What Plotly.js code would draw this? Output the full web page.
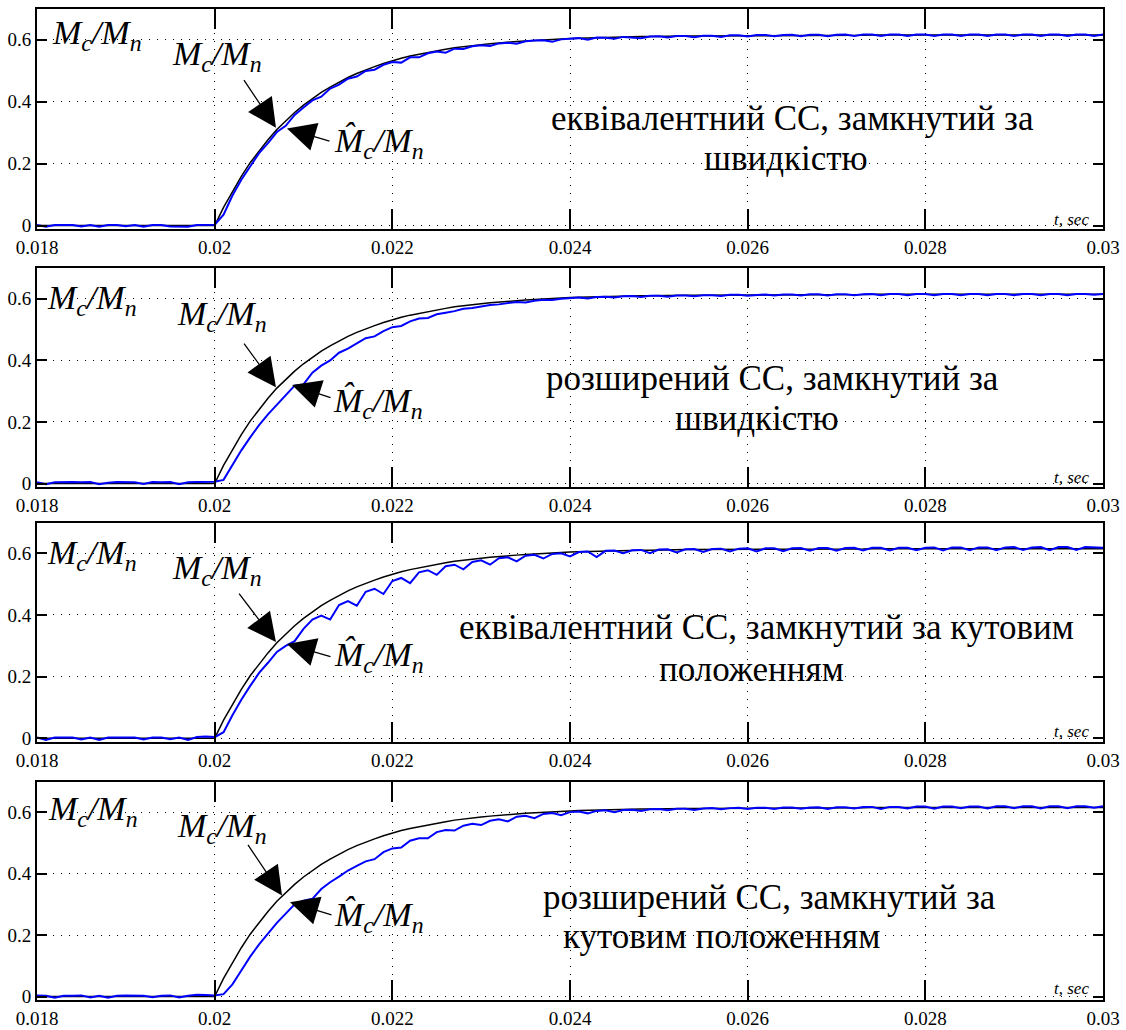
<!DOCTYPE html>
<html>
<head>
<meta charset="utf-8">
<script src="https://cdn.plot.ly/plotly-3.0.1.min.js"></script>
<style>html,body{margin:0;padding:0;background:#fff;}#chart{width:1126px;height:1030px;}</style>
</head>
<body>
<div id="chart"></div>
<script>
// time grid: start 0.018 s, step 0.0001 s (121 samples up to 0.03 s)
const tStart = 0.018;
const tStep = 0.0001;

const xTickVals = [0.018, 0.02, 0.022, 0.024, 0.026, 0.028, 0.03];
const xTickText = ['0.018', '0.02', '0.022', '0.024', '0.026', '0.028', '0.03'];
const yTickVals = [0, 0.2, 0.4, 0.6];
const yTickText = ['0', '0.2', '0.4', '0.6'];

// reference load torque Mc/Mn (black)
const torqueRef = [
  0,0,0,0,0,0,0,0,0,0,0,0,0,0,0,0,0,0,0,0,0,
  0.059,0.111,0.159,0.203,0.242,0.277,0.310,0.339,0.365,0.389,
  0.410,0.430,0.447,0.463,0.478,0.491,0.503,0.513,0.523,0.532,
  0.540,0.547,0.553,0.559,0.565,0.569,0.574,0.578,0.581,0.584,
  0.587,0.590,0.592,0.594,0.596,0.598,0.600,0.601,0.603,0.604,
  0.605,0.606,0.607,0.607,0.608,0.609,0.609,0.610,0.610,0.611,
  0.611,0.611,0.612,0.612,0.612,0.612,0.613,0.613,0.613,0.613,
  0.613,0.613,0.614,0.614,0.614,0.614,0.614,0.614,0.614,0.614,
  0.614,0.614,0.614,0.615,0.615,0.615,0.615,0.615,0.615,0.615,
  0.615,0.615,0.615,0.615,0.615,0.615,0.615,0.615,0.615,0.615,
  0.615,0.615,0.615,0.615,0.615,0.615,0.615,0.615,0.615,0.615
];

// estimated torque (blue), panel 1: equivalent observer, speed loop
const estEqSpeed = [
  0.002,-0.004,0.002,0.002,0.002,-0.003,0.002,-0.004,0.002,0.002,-0.002,0.002,-0.004,0.002,0.002,-0.003,-0.004,-0.004,0.002,0.002,0.003,
  0.035,0.097,0.148,0.193,0.234,0.266,0.302,0.322,0.357,0.381,
  0.404,0.416,0.442,0.455,0.474,0.481,0.499,0.503,0.519,0.528,
  0.526,0.543,0.543,0.556,0.562,0.558,0.571,0.570,0.579,0.582,
  0.580,0.588,0.590,0.587,0.595,0.597,0.598,0.593,0.601,0.603,
  0.605,0.600,0.607,0.606,0.603,0.609,0.608,0.605,0.610,0.611,
  0.607,0.612,0.612,0.608,0.613,0.613,0.609,0.614,0.614,0.610,
  0.615,0.615,0.611,0.615,0.616,0.611,0.616,0.616,0.611,0.616,
  0.617,0.612,0.617,0.617,0.612,0.617,0.617,0.612,0.617,0.617,
  0.612,0.617,0.617,0.612,0.617,0.617,0.612,0.617,0.617,0.612,
  0.617,0.617,0.612,0.617,0.617,0.612,0.617,0.617,0.612,0.617
];

// panel 2: extended observer, speed loop
const estExtSpeed = [
  0.004,-0.002,0.004,0.005,0.005,0.004,0.005,-0.002,0.003,0.005,0.005,0.004,-0.001,0.005,0.004,0.005,-0.002,0.004,0.005,0.006,0.006,
  0.012,0.060,0.108,0.150,0.190,0.225,0.255,0.285,0.318,0.322,
  0.360,0.383,0.400,0.425,0.438,0.455,0.472,0.478,0.495,0.508,
  0.512,0.527,0.536,0.538,0.550,0.555,0.560,0.568,0.570,0.575,
  0.580,0.582,0.586,0.590,0.588,0.594,0.597,0.596,0.600,0.602,
  0.604,0.601,0.606,0.607,0.604,0.608,0.609,0.606,0.610,0.610,
  0.607,0.611,0.611,0.608,0.612,0.612,0.609,0.613,0.613,0.610,
  0.613,0.614,0.611,0.614,0.614,0.611,0.615,0.615,0.611,0.615,
  0.615,0.612,0.615,0.616,0.612,0.616,0.616,0.612,0.616,0.616,
  0.612,0.616,0.616,0.612,0.616,0.616,0.612,0.616,0.616,0.612,
  0.616,0.616,0.612,0.616,0.616,0.612,0.616,0.616,0.613,0.616
];

// panel 3: equivalent observer, position loop
const estEqPos = [
  0.003,-0.005,0.003,0.003,0.003,-0.004,0.003,-0.005,0.003,0.003,0.002,0.003,-0.004,0.003,0.003,-0.003,0.003,-0.005,0.004,0.006,0.004,
  0.020,0.075,0.125,0.170,0.212,0.245,0.280,0.300,0.315,0.355,
  0.385,0.398,0.385,0.432,0.445,0.430,0.475,0.485,0.468,0.510,
  0.520,0.503,0.538,0.545,0.530,0.558,0.563,0.548,0.572,0.577,
  0.563,0.584,0.587,0.574,0.592,0.595,0.583,0.598,0.600,0.590,
  0.604,0.606,0.588,0.608,0.609,0.600,0.610,0.611,0.600,0.612,
  0.613,0.603,0.613,0.614,0.604,0.614,0.615,0.606,0.615,0.616,
  0.606,0.616,0.616,0.607,0.616,0.617,0.608,0.617,0.617,0.608,
  0.617,0.618,0.609,0.618,0.618,0.609,0.618,0.618,0.610,0.618,
  0.619,0.609,0.619,0.619,0.610,0.619,0.619,0.610,0.619,0.620,
  0.611,0.619,0.620,0.610,0.620,0.620,0.611,0.620,0.620,0.618
];

// panel 4: extended observer, position loop
const estExtPos = [
  0.004,0.003,-0.004,0.003,0.003,0.004,-0.003,0.003,-0.004,0.003,0.004,0.003,0.003,-0.002,0.003,0.004,-0.003,0.003,0.006,0.005,0.004,
  0.008,0.040,0.085,0.130,0.170,0.205,0.240,0.270,0.300,0.312,
  0.318,0.350,0.372,0.390,0.410,0.425,0.440,0.447,0.470,0.482,
  0.485,0.507,0.515,0.515,0.535,0.542,0.540,0.556,0.562,0.558,
  0.572,0.577,0.570,0.585,0.588,0.580,0.594,0.597,0.590,0.600,
  0.602,0.596,0.604,0.606,0.600,0.607,0.608,0.604,0.609,0.610,
  0.606,0.611,0.611,0.607,0.612,0.613,0.609,0.613,0.614,0.610,
  0.614,0.614,0.610,0.615,0.615,0.611,0.615,0.616,0.610,0.616,
  0.616,0.612,0.617,0.617,0.610,0.617,0.617,0.612,0.618,0.618,
  0.611,0.618,0.618,0.613,0.618,0.618,0.612,0.619,0.619,0.613,
  0.619,0.619,0.612,0.619,0.619,0.613,0.619,0.619,0.614,0.619
];

const estimates = [estEqSpeed, estExtSpeed, estEqPos, estExtPos];

const panelLines = [
  ['еквівалентний СС, замкнутий за', 'швидкістю'],
  ['розширений СС, замкнутий за', 'швидкістю'],
  ['еквівалентний СС, замкнутий за кутовим', 'положенням'],
  ['розширений СС, замкнутий за', 'кутовим положенням']
];

const SERIF = 'Liberation Serif';
const ratioLabel = '<i>M<sub>c</sub>/M<sub>n</sub></i>';
const hatLabel = '<i>M\u0302<sub>c</sub>/M<sub>n</sub></i>';

// layout helpers (plot area positions)
const yDomains = [[0.778, 1.0], [0.5177, 0.7383], [0.2606, 0.4816], [0.0, 0.2203]];
// per-panel annotation placements [arrowA head x,y, ax, ay, arrowB head x,y, ax, ay, label x,y, hat x,y, corner x,y]
const annPos = [
  [0.02069, 0.316, -33, -49, 0.020814, 0.313, 44, 13, 0.020026, 0.547, 0.02185, 0.268, 0.018675, 0.615],
  [0.02069, 0.313, -33, -45, 0.020871, 0.320, 40, 13, 0.020083, 0.543, 0.021839, 0.261, 0.018619, 0.595],
  [0.02069, 0.312, -38, -50, 0.020814, 0.306, 45, 13, 0.020026, 0.546, 0.02185, 0.264, 0.018619, 0.594],
  [0.020758, 0.329, -35, -52, 0.020848, 0.307, 43, 13, 0.020083, 0.547, 0.02185, 0.258, 0.01863, 0.605]
];
// text line centres in paper coords [x1, y1, x2, y2]
const textPos = [
  [0.7083, 0.8900, 0.7026, 0.8496],
  [0.6895, 0.6276, 0.6754, 0.5863],
  [0.6839, 0.3754, 0.6698, 0.3330],
  [0.6867, 0.1039, 0.6417, 0.0636]
];
const tsecY = [0.788, 0.5277, 0.2707, 0.0111];

const traces = [];
const layout = {
  width: 1126, height: 1030,
  margin: {l: 37, r: 23, t: 9, b: 30},
  paper_bgcolor: '#ffffff', plot_bgcolor: '#ffffff',
  showlegend: false,
  font: {family: SERIF, color: '#000000', size: 19},
  annotations: []
};

for (let p = 0; p < 4; p++) {
  const sfx = p === 0 ? '' : String(p + 1);
  const xa = 'x' + sfx, ya = 'y' + sfx;
  traces.push({x0: tStart, dx: tStep, y: torqueRef, xaxis: xa, yaxis: ya, type: 'scatter', mode: 'lines',
    line: {color: '#000000', width: 1.5}, hoverinfo: 'skip'});
  traces.push({x0: tStart, dx: tStep, y: estimates[p], xaxis: xa, yaxis: ya, type: 'scatter', mode: 'lines',
    line: {color: '#0000ff', width: 2}, hoverinfo: 'skip'});

  layout['xaxis' + sfx] = {
    domain: [0, 1], anchor: ya, range: [0.018, 0.03],
    tickmode: 'array', tickvals: xTickVals, ticktext: xTickText,
    ticks: 'inside', ticklen: 20, tickwidth: 2, tickcolor: '#000000',
    showline: true, linecolor: '#000000', linewidth: 2, mirror: 'ticks',
    showgrid: true, gridcolor: '#000000', gridwidth: 1, griddash: '1px,7px',
    zeroline: false, tickfont: {family: SERIF, size: 19, color: '#000000'}
  };
  layout['yaxis' + sfx] = {
    domain: yDomains[p], anchor: xa, range: [-0.011, 0.699],
    tickmode: 'array', tickvals: yTickVals, ticktext: yTickText,
    ticks: 'inside', ticklen: 10, tickwidth: 2, tickcolor: '#000000',
    showline: true, linecolor: '#000000', linewidth: 2, mirror: 'ticks',
    showgrid: true, gridcolor: '#000000', gridwidth: 1, griddash: '1px,7px',
    zeroline: false, tickfont: {family: SERIF, size: 19, color: '#000000'}
  };

  const a = annPos[p];
  const big = {family: SERIF, size: 35, color: '#000000'};
  const lab = {family: SERIF, size: 34, color: '#000000'};
  // arrows
  layout.annotations.push({xref: xa, yref: ya, x: a[0], y: a[1], ax: a[2], ay: a[3], text: '',
    showarrow: true, arrowhead: 2, arrowsize: 4.4, arrowwidth: 1.3, arrowcolor: '#000000', standoff: 0});
  layout.annotations.push({xref: xa, yref: ya, x: a[4], y: a[5], ax: a[6], ay: a[7], text: '',
    showarrow: true, arrowhead: 2, arrowsize: 4.4, arrowwidth: 1.3, arrowcolor: '#000000', standoff: 0});
  // labels
  layout.annotations.push({xref: xa, yref: ya, x: a[8], y: a[9], text: ratioLabel, showarrow: false,
    font: lab, xanchor: 'center', yanchor: 'middle'});
  layout.annotations.push({xref: xa, yref: ya, x: a[10], y: a[11], text: hatLabel, showarrow: false,
    font: lab, xanchor: 'center', yanchor: 'middle'});
  layout.annotations.push({xref: xa, yref: ya, x: a[12], y: a[13], text: ratioLabel, showarrow: false,
    font: lab, xanchor: 'center', yanchor: 'middle'});
  // description
  const tp = textPos[p];
  layout.annotations.push({xref: 'paper', yref: 'paper', x: tp[0], y: tp[1], text: panelLines[p][0],
    showarrow: false, font: big, xanchor: 'center', yanchor: 'middle', borderpad: 0});
  layout.annotations.push({xref: 'paper', yref: 'paper', x: tp[2], y: tp[3], text: panelLines[p][1],
    showarrow: false, font: big, xanchor: 'center', yanchor: 'middle', borderpad: 0});
  // axis name
  layout.annotations.push({xref: 'paper', yref: 'paper', x: 0.9887, y: tsecY[p], text: '<i>t, sec</i>',
    showarrow: false, font: {family: SERIF, size: 17, color: '#000000'}, xanchor: 'right', yanchor: 'middle'});
}

Plotly.newPlot('chart', traces, layout, {displayModeBar: false, staticPlot: true});
</script>
</body>
</html>
